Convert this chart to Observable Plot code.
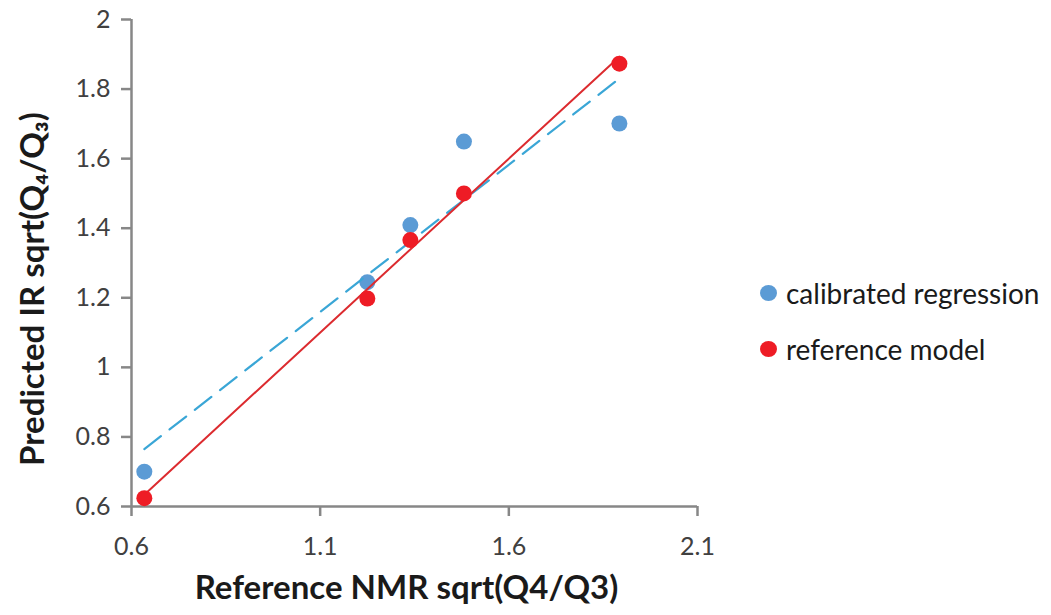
<!DOCTYPE html>
<html>
<head>
<meta charset="utf-8">
<script src="https://cdn.jsdelivr.net/npm/d3@7"></script>
<script src="https://cdn.jsdelivr.net/npm/@observablehq/plot@0.6"></script>
<style>
  body { margin: 0; background: #fff; font-family: Lato, "Open Sans", sans-serif; }
  #wrap { position: relative; width: 1051px; height: 615px; overflow: hidden; }
  #legend { position: absolute; left: 760px; top: 275px; font-size: 28px; color: #1a1a1a; }
  #legend .item { display: flex; align-items: center; height: 35px; margin-bottom: 21px; white-space: nowrap; }
  #legend .sw { width: 17px; height: 16px; border-radius: 50%; margin-right: 9px; flex: none; }
</style>
</head>
<body>
<div id="wrap">
  <div id="chart"></div>
  <div id="legend"></div>
</div>
<script>
// Reference NMR sqrt(Q4/Q3) for each sample
const nmr = [0.634, 1.225, 1.339, 1.481, 1.893];
// IR predictions from the calibrated regression
const calibrated = [0.700, 1.245, 1.409, 1.649, 1.701];
// IR predictions from the reference model
const reference = [0.624, 1.198, 1.366, 1.500, 1.873];

const seriesNames = ["calibrated regression", "reference model"];
const seriesColors = ["#5b9bd5", "#ee1c25"];

const xTicks = [0.6, 1.1, 1.6, 2.1];
const yTicks = [0.6, 0.8, 1, 1.2, 1.4, 1.6, 1.8, 2];

const xTitle = "Reference NMR sqrt(Q4/Q3)";
const yTitle = "Predicted IR sqrt(Q\u2084/Q\u2083)";

const calRows = nmr.map((x, i) => ({x, y: calibrated[i]}));
const refRows = nmr.map((x, i) => ({x, y: reference[i]}));

const axisGray = "#878787";
const labelColor = "#404040";

const chart = Plot.plot({
  width: 720,
  height: 615,
  marginLeft: 131,
  marginRight: 23,
  marginTop: 19,
  marginBottom: 109,
  style: {fontFamily: "Lato, 'Open Sans', sans-serif", background: "#fff"},
  x: {domain: [0.6, 2.1]},
  y: {domain: [0.6, 2]},
  marks: [
    Plot.axisY({ticks: yTicks, tickFormat: "~g", tickSize: 10, tickPadding: 11,
      stroke: axisGray, strokeWidth: 2.5, fill: labelColor, fontSize: 25, label: null}),
    Plot.axisX({ticks: xTicks, tickFormat: "~g", tickSize: 10, tickPadding: 21,
      stroke: axisGray, strokeWidth: 2.5, fill: labelColor, fontSize: 25, label: null}),
    Plot.ruleX([0.6], {stroke: axisGray, strokeWidth: 2.5}),
    Plot.ruleY([0.6], {stroke: axisGray, strokeWidth: 2.5}),
    Plot.text([xTitle], {frameAnchor: "bottom", textAnchor: "middle", dx: -8, dy: 92,
      fontSize: 33, fontWeight: "bold", fill: "#1a1a1a"}),
    Plot.text([yTitle], {frameAnchor: "left", textAnchor: "middle", dx: -98, dy: 26,
      rotate: -90, fontSize: 33, fontWeight: "bold", fill: "#1a1a1a"}),
    Plot.dot(calRows, {x: "x", y: "y", r: 8, fill: seriesColors[0]}),
    Plot.linearRegressionY(calRows, {x: "x", y: "y", ci: 0, stroke: "#3aa6d6",
      strokeWidth: 2.2, strokeDasharray: "21,11"}),
    // 1:1 line across the measured NMR range
    Plot.line(d3.extent(nmr), {x: d => d, y: d => d, stroke: "#dc2b2f", strokeWidth: 2}),
    Plot.dot(refRows, {x: "x", y: "y", r: 8, fill: seriesColors[1]})
  ]
});
document.getElementById("chart").append(chart);

const legend = document.getElementById("legend");
seriesNames.forEach((name, i) => {
  const item = document.createElement("div");
  item.className = "item";
  const sw = document.createElement("span");
  sw.className = "sw";
  sw.style.background = seriesColors[i];
  const label = document.createElement("span");
  label.textContent = name;
  item.append(sw, label);
  legend.append(item);
});
</script>
</body>
</html>
